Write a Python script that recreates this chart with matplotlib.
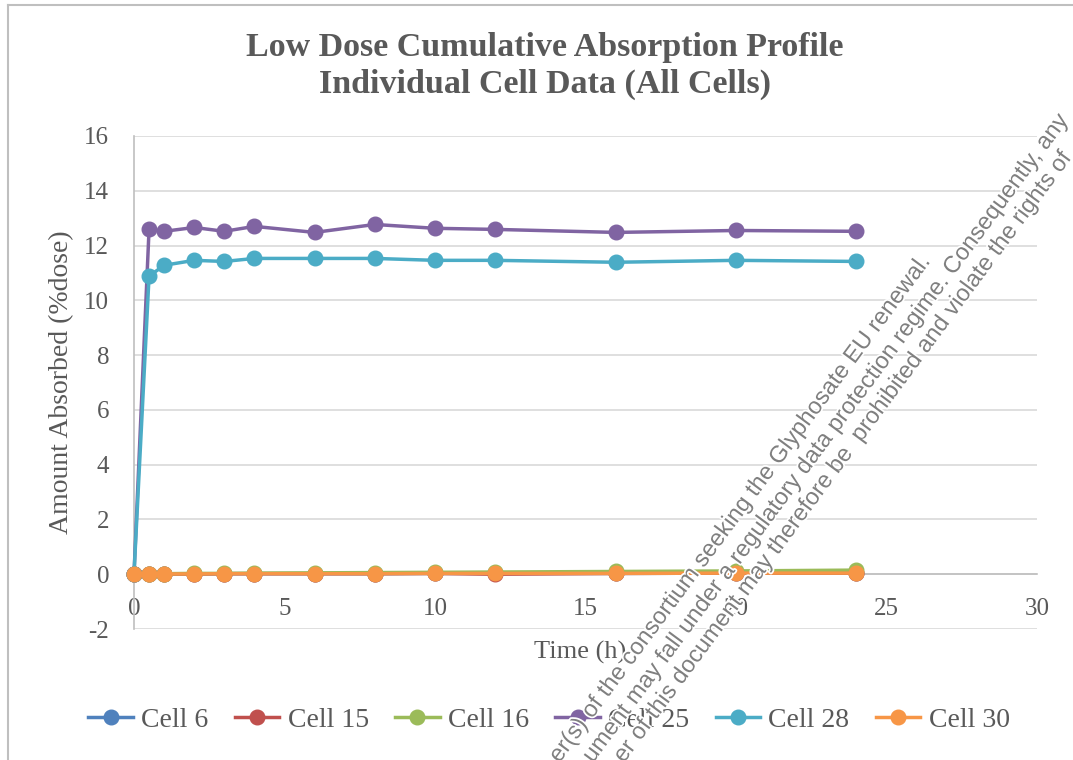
import matplotlib
matplotlib.use("Agg")
import matplotlib.pyplot as plt
from matplotlib.lines import Line2D
import matplotlib.patheffects as pe

plt.rcParams["axes.unicode_minus"] = False

# datos
time_h = [0, 0.5, 1, 2, 3, 4, 6, 8, 10, 12, 16, 20, 24]
cell_6 = [0, 0.01, 0.01, 0.01, 0.02, 0.02, 0.02, 0.02, 0.03, 0.03, 0.03, 0.04, 0.04]
cell_15 = [0, 0.01, 0.01, 0.01, 0.02, 0.02, 0.02, 0.02, 0.03, 0.0, 0.03, 0.04, 0.04]
cell_16 = [0, 0.01, 0.02, 0.03, 0.03, 0.04, 0.05, 0.06, 0.07, 0.08, 0.10, 0.12, 0.15]
cell_25 = [0, 12.59, 12.52, 12.66, 12.52, 12.70, 12.48, 12.77, 12.63, 12.59, 12.48, 12.55, 12.52]
cell_28 = [0, 10.88, 11.28, 11.46, 11.42, 11.53, 11.53, 11.53, 11.46, 11.46, 11.39, 11.46, 11.42]
cell_30 = [0, 0.01, 0.01, 0.01, 0.02, 0.02, 0.02, 0.02, 0.03, 0.03, 0.03, 0.04, 0.04]

labels = ["Cell 6", "Cell 15", "Cell 16", "Cell 25", "Cell 28", "Cell 30"]
colors = ["#4F81BD", "#C0504D", "#9BBB59", "#8064A2", "#4BACC6", "#F79646"]
series = [cell_6, cell_15, cell_16, cell_25, cell_28, cell_30]

watermark = [
    "er(s) of the consortium seeking the Glyphosate EU renewal.",
    "ument may fall under a regulatory data protection regime. Consequently, any",
    "er of this document may therefore be  prohibited and violate the rights of",
]

W, H = 1073, 760
txt = "#595959"
serif = "Liberation Serif"

fig = plt.figure(figsize=(W / 100, H / 100), dpi=100)
ax = fig.add_axes([134 / W, 1 - 629 / H, 903 / W, 493 / H])

for vals, lab, col in zip(series, labels, colors):
    ax.plot(time_h, vals, color=col, lw=2.5, marker="o", markersize=10.5,
            label=lab, clip_on=False, zorder=3)

ax.set_xlim(0, 30)
ax.set_ylim(-2, 16)
ax.set_xticks(range(0, 31, 5))
ax.set_yticks(range(-2, 17, 2))
ax.yaxis.grid(True, color="#D9D9D9", lw=1.2)
ax.set_axisbelow(True)

for s in ["top", "right"]:
    ax.spines[s].set_visible(False)
ax.spines["left"].set_color("#BFBFBF")
ax.spines["left"].set_linewidth(1.2)
ax.spines["bottom"].set_position(("data", 0))
ax.spines["bottom"].set_color("#BFBFBF")
ax.spines["bottom"].set_linewidth(1.2)

ax.tick_params(axis="both", length=0, labelsize=18, labelcolor=txt)
ax.tick_params(axis="y", pad=18)
ax.tick_params(axis="x", pad=17)
for t in ax.get_xticklabels() + ax.get_yticklabels():
    t.set_fontfamily(serif)

ax.set_xlabel("Time (h)", fontsize=19, color=txt, family=serif)
ax.xaxis.set_label_coords((580 - 134) / 903, -23 / 493)
ax.xaxis.label.set_va("center")
ax.set_ylabel("Amount Absorbed (%dose)", fontsize=20, color=txt, family=serif)
ax.yaxis.set_label_coords(-72 / 903, 0.5)
ax.yaxis.label.set_va("center")

fig.text(545 / W, 1 - 66 / H,
         "Low Dose Cumulative Absorption Profile\nIndividual Cell Data (All Cells)",
         ha="center", va="center", fontsize=24.5, fontweight="bold",
         color=txt, family=serif, linespacing=1.2)

ax.legend(loc="center", bbox_to_anchor=(549 / W, 1 - 720 / H),
          bbox_transform=fig.transFigure, ncol=6, frameon=False,
          prop={"family": serif, "size": 20}, labelcolor=txt,
          handlelength=1.6, handletextpad=0.3, columnspacing=0.95)

# marco del grafico
fig.add_artist(Line2D([8 / W, 1], [1 - 5 / H, 1 - 5 / H], transform=fig.transFigure,
                      color="#BFBFBF", lw=1.5))
fig.add_artist(Line2D([8 / W, 8 / W], [0, 1 - 5 / H], transform=fig.transFigure,
                      color="#BFBFBF", lw=1.5))

# marca de agua diagonal
starts = [554.5, 588, 619]
for line, x0 in zip(watermark, starts):
    fig.text(x0 / W, 0, line, rotation=53.5, rotation_mode="anchor",
             ha="left", va="center", fontsize=17, family="Liberation Sans",
             color="#808080", zorder=10,
             path_effects=[pe.withStroke(linewidth=2.5, foreground="white")])

fig.savefig("out.png", dpi=100)
